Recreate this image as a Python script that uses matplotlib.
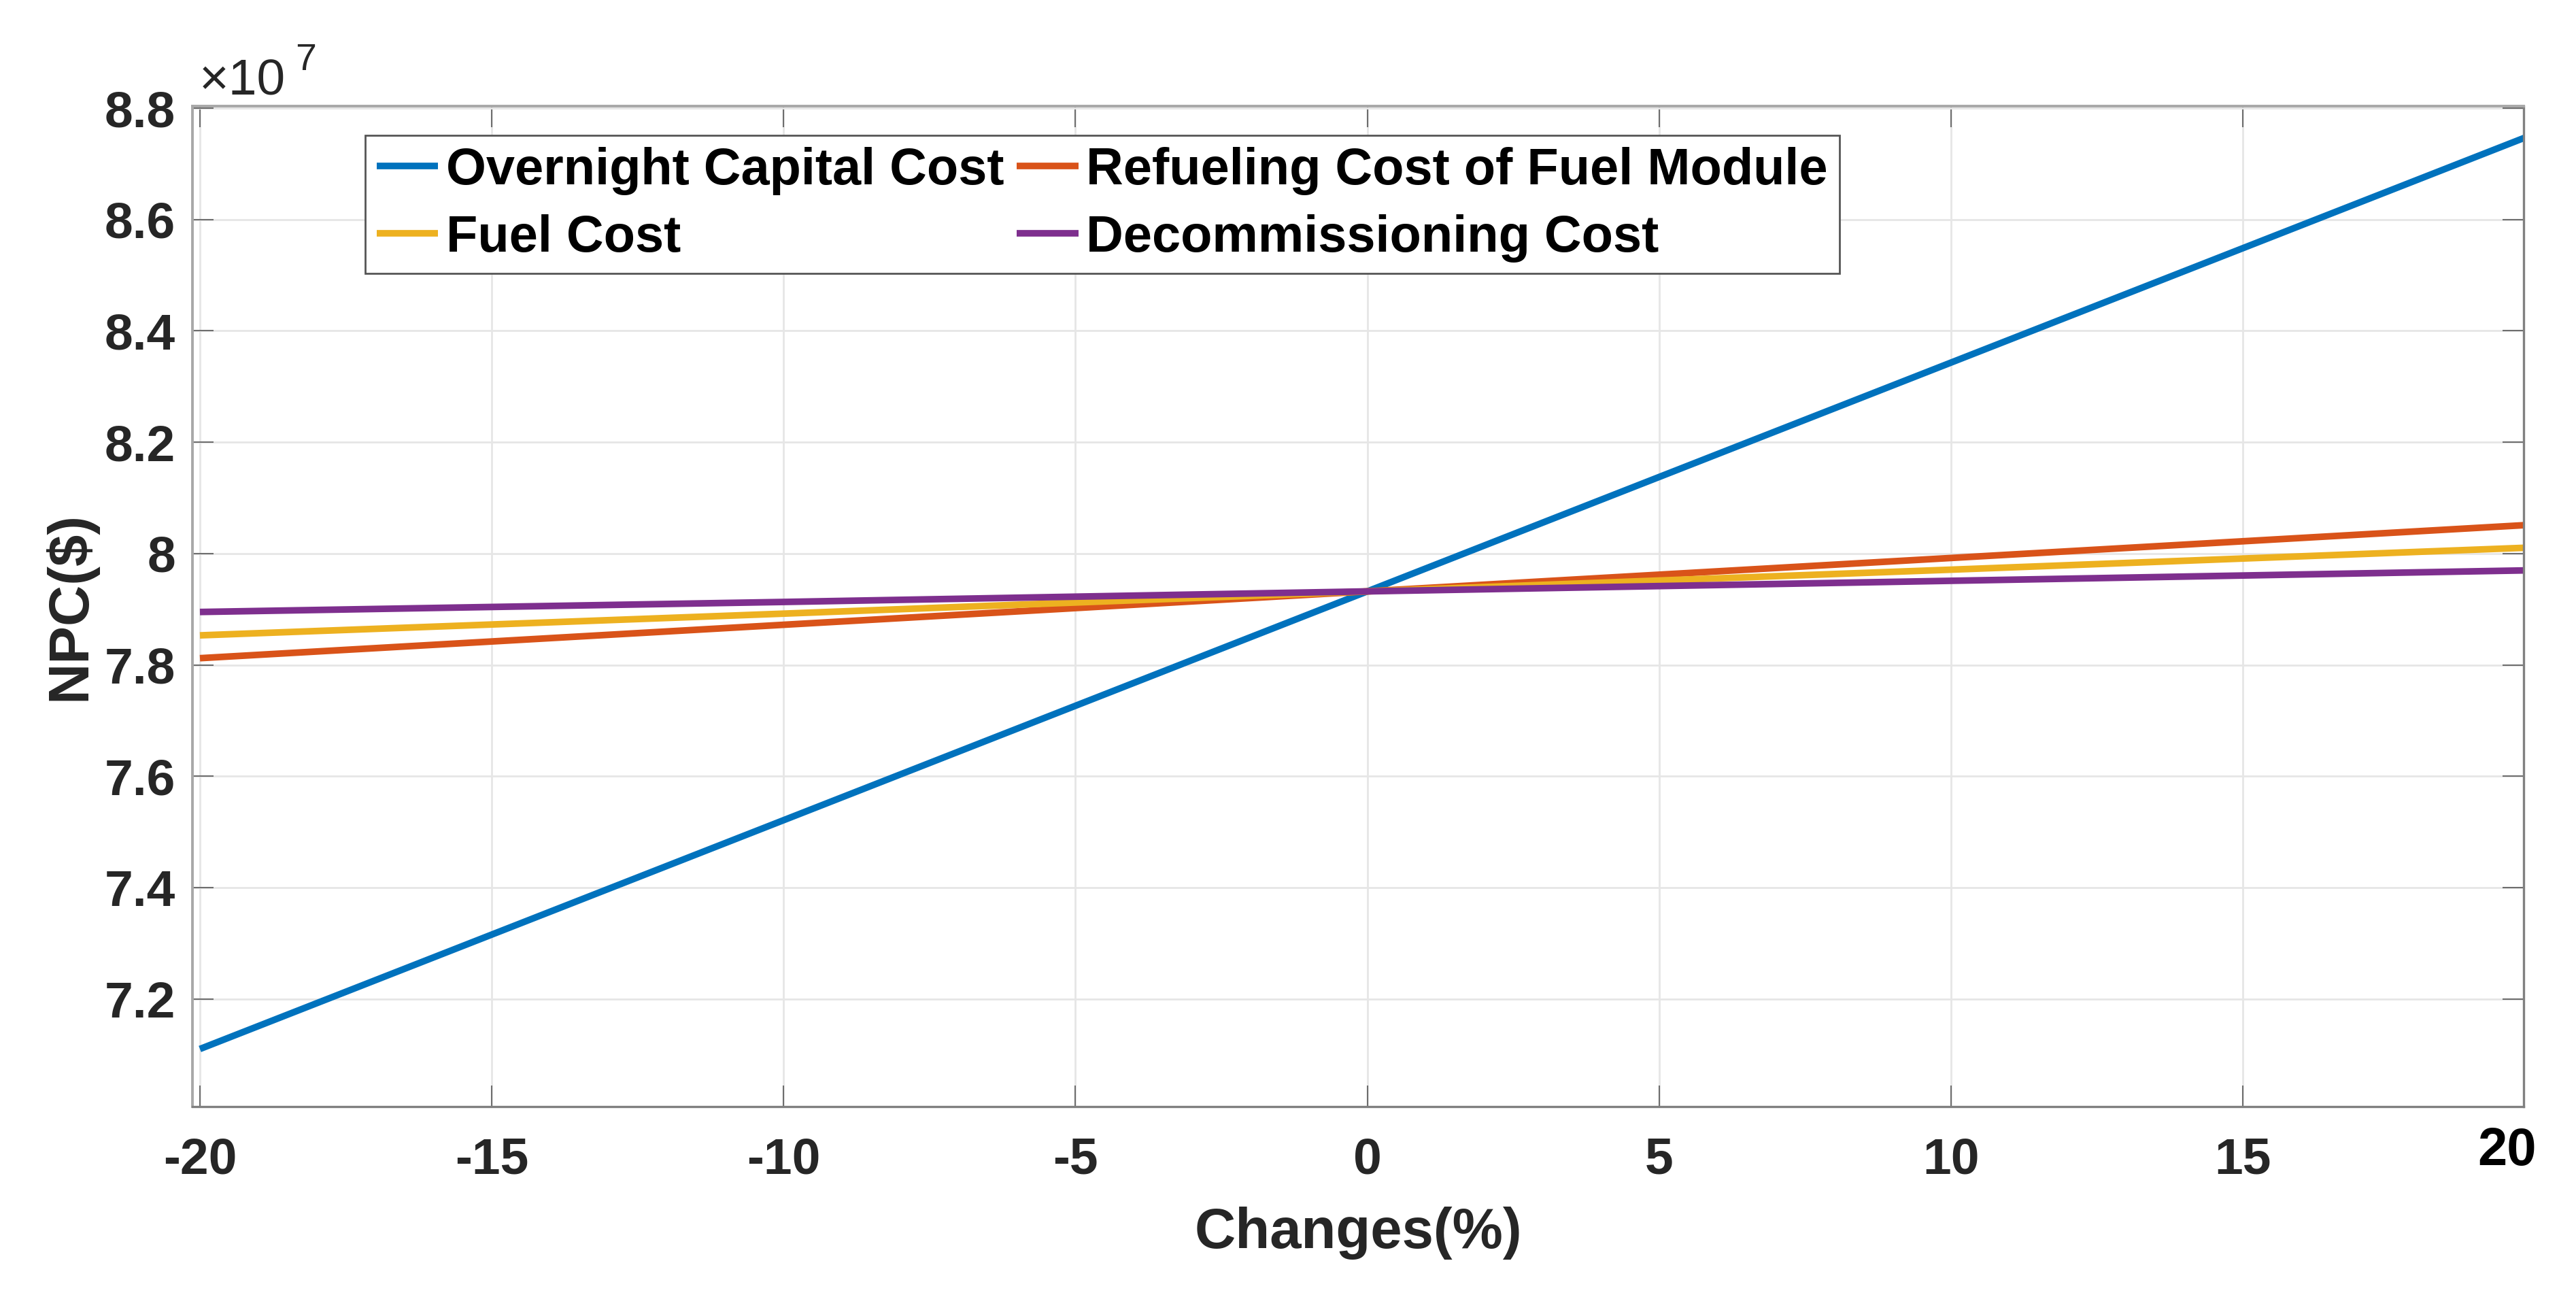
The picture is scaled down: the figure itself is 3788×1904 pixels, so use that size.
import matplotlib
matplotlib.use("Agg")
import matplotlib.pyplot as plt
from matplotlib.ticker import FuncFormatter, FixedLocator

plt.rcParams['font.family'] = ['Liberation Sans', 'DejaVu Sans']
plt.rcParams['font.weight'] = 'bold'

# ---- data ----
changes = [-20, -10, 0, 10, 20]
overnight_capital = [7.110e7, 7.521e7, 7.932e7, 8.343e7, 8.754e7]
refueling_fuel_module = [7.812e7, 7.872e7, 7.932e7, 7.992e7, 8.052e7]
fuel_cost = [7.853e7, 7.892e7, 7.932e7, 7.971e7, 8.011e7]
decommissioning = [7.895e7, 7.913e7, 7.932e7, 7.951e7, 7.970e7]

series_names = ["Overnight Capital Cost", "Refueling Cost of Fuel Module",
                "Fuel Cost", "Decommissioning Cost"]
series_colors = ["#0072BD", "#D95319", "#EDB120", "#7E2F8E"]

xticks = [-20, -15, -10, -5, 0, 5, 10, 15]
yticks = [7.2e7, 7.4e7, 7.6e7, 7.8e7, 8.0e7, 8.2e7, 8.4e7, 8.6e7, 8.8e7]

W, H = 3788, 1904
fig = plt.figure(figsize=(W / 100, H / 100), dpi=100)
L, R, T, B = 283, 3711, 156, 1627
ax = fig.add_axes([L / W, 1 - B / H, (R - L) / W, (B - T) / H])

lines = []
for vals, name, col in zip([overnight_capital, refueling_fuel_module, fuel_cost, decommissioning],
                           series_names, series_colors):
    ln, = ax.plot(changes, vals, color=col, lw=7.0, label=name, solid_capstyle='butt')
    lines.append(ln)

ax.set_xlim(-20.128, 19.81)
ax.set_ylim(7.0065e7, 8.8037e7)
ax.xaxis.set_major_locator(FixedLocator(xticks))
ax.yaxis.set_major_locator(FixedLocator(yticks))
ax.yaxis.set_major_formatter(FuncFormatter(lambda v, p: '%g' % round(v / 1e7, 4)))
ax.xaxis.set_major_formatter(FuncFormatter(lambda v, p: '%g' % v))

ax.grid(True, color='#e6e6e6', lw=2.0)
ax.set_axisbelow(True)

ax.tick_params(axis='both', direction='in', length=22, width=1.5, color='#6e6e6e',
               top=True, right=True, labelsize=54, labelcolor='#262626')
ax.tick_params(axis='x', pad=32)
ax.tick_params(axis='y', pad=18)
for lab in ax.get_xticklabels() + ax.get_yticklabels():
    lab.set_fontweight('bold')

for side in ['left', 'top']:
    ax.spines[side].set_color('#a8a8a8')
    ax.spines[side].set_linewidth(2.8)
for side in ['bottom', 'right']:
    ax.spines[side].set_color('#808080')
    ax.spines[side].set_linewidth(2.4)

ax.set_xlabel('Changes(%)', fontsize=60, fontweight='bold', color='#262626')
ax.set_ylabel('NPC($)', fontsize=60, fontweight='bold', color='#262626')
ax.xaxis.set_label_coords(0.5, (1627 - 1813) / (B - T), transform=ax.transAxes)
ax.yaxis.set_label_coords((103 - L) / (R - L), 0.5, transform=ax.transAxes)
ax.xaxis.label.set_va('center')
ax.yaxis.label.set_va('center')

# manual "20" tick label at right end
fig.text(3687 / W, 1 - 1693 / H, '20', fontsize=56, fontweight='bold', color='black',
         ha='center', va='center')

# exponent annotation
fig.text(293 / W, 1 - 140 / H, '\u00d710', fontsize=54, fontweight='normal', color='#262626',
         ha='left', va='baseline')
fig.text(434 / W, 1 - 103 / H, '7', fontsize=40, fontweight='normal', color='#262626',
         ha='left', va='baseline')

order = [0, 2, 1, 3]
leg = ax.legend([lines[i] for i in order], [series_names[i] for i in order],
                ncol=2, loc='upper left',
                bbox_to_anchor=((537 - L) / (R - L), (B - 199) / (B - T)),
                borderaxespad=0, frameon=True, fancybox=False,
                handlelength=1.2, handletextpad=0.15, columnspacing=0.25,
                labelspacing=0.37, borderpad=0.22, prop={'weight': 'bold', 'size': 54.5})
leg.get_frame().set_edgecolor('#555555')
leg.get_frame().set_linewidth(2.0)
leg.get_frame().set_alpha(1)
for t in leg.get_texts():
    t.set_color('black')
for h in leg.legend_handles:
    h.set_linewidth(7.0)

fig.savefig('out.png', dpi=100, facecolor='white')
